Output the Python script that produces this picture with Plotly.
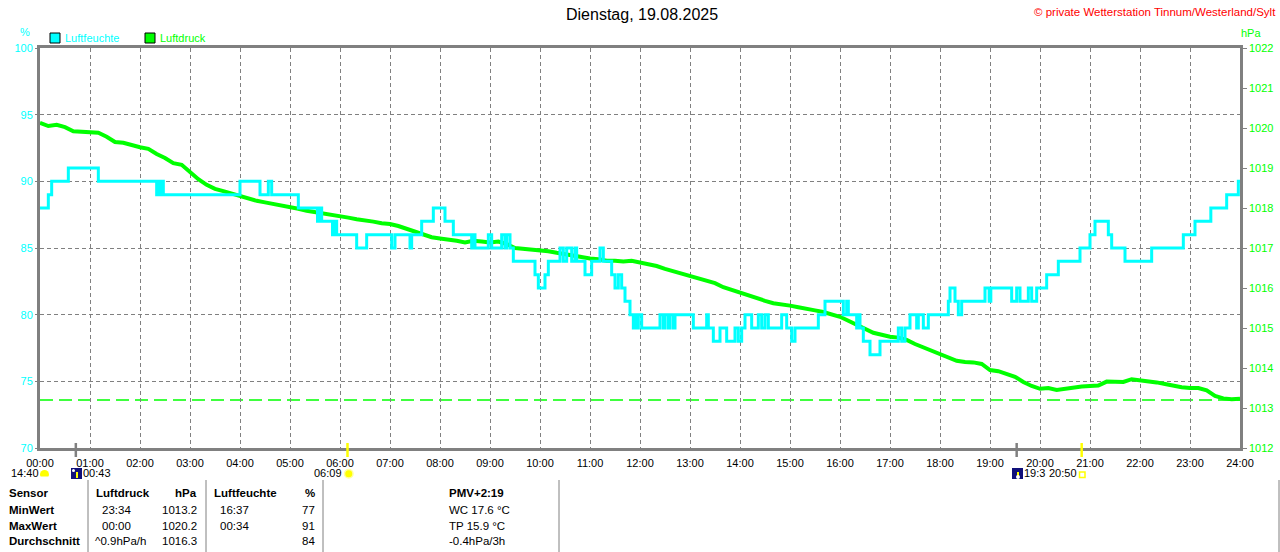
import plotly.graph_objects as go

# Luftfeuchte (%) - Zeitpunkte, an denen sich der Wert ändert
hum_times = [
    "00:00", "00:10", "00:14", "00:34", "01:10", "02:20", "02:22", "02:25", "02:26", "02:28",
    "04:00", "04:24", "04:34", "04:38", "05:10", "05:33", "05:35", "05:38", "05:51", "05:53",
    "05:56", "06:20", "06:32", "07:02", "07:06", "07:24", "07:26", "07:38", "07:52", "08:06",
    "08:16", "08:38", "08:40", "08:42", "08:58", "09:02", "09:14", "09:18", "09:20", "09:24",
    "09:28", "09:54", "09:58", "10:06", "10:10", "10:24", "10:28", "10:32", "10:38", "10:42",
    "10:44", "10:54", "11:02", "11:12", "11:16", "11:26", "11:30", "11:34", "11:38", "11:42",
    "11:48", "11:52", "11:54", "11:56", "11:58", "12:02", "12:24", "12:28", "12:30", "12:34",
    "12:36", "12:40", "12:42", "13:04", "13:20", "13:22", "13:28", "13:36", "13:44", "13:54",
    "13:58", "14:02", "14:06", "14:14", "14:22", "14:26", "14:30", "14:34", "14:50", "14:56",
    "15:02", "15:06", "15:34", "15:42", "16:04", "16:08", "16:10", "16:20", "16:22", "16:24",
    "16:28", "16:36", "16:48", "17:10", "17:14", "17:18", "17:24", "17:32", "17:34", "17:40",
    "17:46", "18:10", "18:12", "18:18", "18:22", "18:26", "18:54", "18:59", "19:01", "19:26",
    "19:32", "19:36", "19:46", "19:50", "19:56", "20:08", "20:22", "20:48", "21:00", "21:06",
    "21:22", "21:26", "21:42", "22:14", "22:52", "23:06", "23:25", "23:44", "23:58", "24:00",
]
hum_values = [
    88, 89, 90, 91, 90, 89, 90, 89, 90, 89,
    90, 89, 90, 89, 88, 87, 88, 87, 86, 87,
    86, 85, 86, 85, 86, 85, 86, 87, 88, 87,
    86, 85, 86, 85, 86, 85, 86, 85, 86, 85,
    84, 83, 82, 83, 84, 85, 84, 85, 84, 85,
    84, 83, 84, 85, 84, 83, 82, 83, 82, 81,
    80, 79, 80, 79, 80, 79, 80, 79, 80, 79,
    80, 79, 80, 79, 80, 79, 78, 79, 78, 79,
    78, 79, 80, 79, 80, 79, 80, 79, 80, 79,
    78, 79, 80, 81, 80, 81, 80, 79, 80, 79,
    78, 77, 78, 79, 78, 79, 80, 79, 80, 79,
    80, 81, 82, 81, 80, 81, 82, 81, 82, 81,
    82, 81, 82, 81, 82, 83, 84, 85, 86, 87,
    86, 85, 84, 85, 86, 87, 88, 89, 90, 90,
]

# Luftdruck (hPa) - ein Wert alle 10 Minuten, 00:00 bis 24:00
press_values = [
    1020.13, 1020.05, 1020.08, 1020.02, 1019.92, 1019.90,  # 00
    1019.90, 1019.88, 1019.78, 1019.65, 1019.63, 1019.57,  # 01
    1019.52, 1019.48, 1019.35, 1019.25, 1019.12, 1019.08,  # 02
    1018.90, 1018.72, 1018.58, 1018.48, 1018.42, 1018.36,  # 03
    1018.28, 1018.24, 1018.18, 1018.14, 1018.10, 1018.08,  # 04
    1018.04, 1017.98, 1017.93, 1017.90, 1017.85, 1017.82,  # 05
    1017.80, 1017.76, 1017.72, 1017.70, 1017.66, 1017.62,  # 06
    1017.60, 1017.55, 1017.48, 1017.40, 1017.32, 1017.27,  # 07
    1017.24, 1017.22, 1017.18, 1017.14, 1017.18, 1017.16,  # 08
    1017.14, 1017.16, 1017.10, 1017.00, 1016.98, 1016.96,  # 09
    1016.95, 1016.92, 1016.88, 1016.84, 1016.80, 1016.76,  # 10
    1016.74, 1016.72, 1016.68, 1016.68, 1016.66, 1016.68,  # 11
    1016.64, 1016.60, 1016.55, 1016.48, 1016.42, 1016.35,  # 12
    1016.28, 1016.22, 1016.18, 1016.12, 1016.02, 1015.95,  # 13
    1015.88, 1015.80, 1015.74, 1015.68, 1015.62, 1015.60,  # 14
    1015.56, 1015.52, 1015.47, 1015.44, 1015.40, 1015.35,  # 15
    1015.28, 1015.18, 1015.08, 1014.97, 1014.88, 1014.83,  # 16
    1014.78, 1014.76, 1014.70, 1014.60, 1014.52, 1014.42,  # 17
    1014.35, 1014.26, 1014.18, 1014.15, 1014.14, 1014.10,  # 18
    1013.95, 1013.92, 1013.85, 1013.78, 1013.65, 1013.55,  # 19
    1013.48, 1013.50, 1013.45, 1013.48, 1013.52, 1013.54,  # 20
    1013.55, 1013.56, 1013.66, 1013.66, 1013.65, 1013.72,  # 21
    1013.70, 1013.68, 1013.64, 1013.60, 1013.55, 1013.52,  # 22
    1013.50, 1013.50, 1013.44, 1013.30, 1013.24, 1013.22,  # 23
    1013.23,                                               # 24
]
press_min = 1013.2

hour_labels = ["%02d:00" % h for h in range(25)]

# Mond- und Sonnenzeiten unter der Zeitachse
moon_rise = "00:43"
moon_set = "19:32"
sun_rise = "06:09"
sun_set = "20:50"

# Tabelle unten
table_rows = ["Sensor", "MinWert", "MaxWert", "Durchschnitt"]
druck_time = ["", "23:34", "00:00", "^0.9hPa/h"]
druck_val = ["hPa", "1013.2", "1020.2", "1016.3"]
feuchte_time = ["", "16:37", "00:34", ""]
feuchte_val = ["%", "77", "91", "84"]
extra_info = ["PMV+2:19", "WC 17.6 °C", "TP 15.9 °C", "-0.4hPa/3h"]

CYAN = "#00FFFF"
GREEN = "#00FF00"
GREY = "#808080"
FONT = "Liberation Sans, Arial, sans-serif"


def hours(t):
    h, m = t.split(":")
    return int(h) + int(m) / 60


def px_x(px):
    return (px - 40) / 1200


def px_y(py):
    return (448 - py) / 400


press_times = [i / 6 for i in range(len(press_values))]

fig = go.Figure()

fig.add_trace(go.Scatter(
    x=press_times, y=press_values, yaxis="y", mode="lines",
    line=dict(color=GREEN, width=4), name="Luftdruck", hoverinfo="skip",
))
fig.add_trace(go.Scatter(
    x=[hours(t) for t in hum_times], y=hum_values, yaxis="y2", mode="lines",
    line=dict(color=CYAN, width=3, shape="hv"), name="Luftfeuchte", hoverinfo="skip",
))

annotations = []
shapes = []


def text(px, py, s, anchor="left", color="black", size=11, bold=False):
    if bold:
        s = "<b>" + s + "</b>"
    annotations.append(dict(
        x=px_x(px), y=px_y(py), xref="paper", yref="paper", text=s,
        showarrow=False, xanchor=anchor, yanchor="middle",
        font=dict(family=FONT, size=size, color=color), borderpad=0,
    ))


# Kopfzeile
text(642, 15, "Dienstag, 19.08.2025", anchor="center", size=16)
text(1277, 12, "© private Wetterstation Tinnum/Westerland/Sylt", anchor="right", color="#FF0000", size=11.5)
text(31, 32, "%", anchor="right", color=CYAN)
text(1240, 33, "hPa", color=GREEN)

# Legende
for x0, label, col in [(50, "Luftfeuchte", CYAN), (145, "Luftdruck", GREEN)]:
    shapes.append(dict(type="rect", xref="paper", yref="paper",
                       x0=px_x(x0), x1=px_x(x0 + 10), y0=px_y(43), y1=px_y(33),
                       fillcolor=col, line=dict(color="black", width=1)))
    text(x0 + 14, 38, label, color=col)

# Minimum-Linie Luftdruck
shapes.append(dict(type="line", xref="x", yref="y", x0=0, x1=24, y0=press_min, y1=press_min,
                   line=dict(color=GREEN, width=1.5, dash="13px,6px"), layer="below"))

# Markierungen für Mond und Sonne
for t, col in [(moon_rise, GREY), (moon_set, GREY), (sun_rise, "#FFFF00"), (sun_set, "#FFFF00")]:
    shapes.append(dict(type="line", xref="x", yref="paper", x0=hours(t), x1=hours(t),
                       y0=px_y(443), y1=px_y(457), line=dict(color=col, width=2.5)))

text(10, 473, "14:40")
shapes.append(dict(type="circle", xref="paper", yref="paper", x0=px_x(40), x1=px_x(49),
                   y0=px_y(479), y1=px_y(470), fillcolor="#FFFF00", line=dict(width=0)))
shapes.append(dict(type="rect", xref="paper", yref="paper", x0=px_x(39), x1=px_x(50),
                   y0=px_y(482), y1=px_y(476.5), fillcolor="white", line=dict(width=0)))

for xs in [71, 1012]:
    shapes.append(dict(type="rect", xref="paper", yref="paper", x0=px_x(xs), x1=px_x(xs + 11),
                       y0=px_y(479), y1=px_y(468), fillcolor="#10107A", line=dict(width=0)))
    shapes.append(dict(type="line", xref="paper", yref="paper", x0=px_x(xs + 6), x1=px_x(xs + 6),
                       y0=px_y(478), y1=px_y(472), line=dict(color="#FFFF00", width=2)))
shapes.append(dict(type="circle", xref="paper", yref="paper", x0=px_x(72), x1=px_x(75),
                   y0=px_y(472), y1=px_y(469), fillcolor="white", line=dict(width=0)))
shapes.append(dict(type="circle", xref="paper", yref="paper", x0=px_x(1016), x1=px_x(1020),
                   y0=px_y(479), y1=px_y(475), fillcolor="white", line=dict(width=0)))
text(82, 473, moon_rise)
text(1023, 473, moon_set[:4])
text(343, 473, sun_rise, anchor="right")
shapes.append(dict(type="circle", xref="paper", yref="paper", x0=px_x(344.5), x1=px_x(353),
                   y0=px_y(478), y1=px_y(469.5), fillcolor="#FFFF00",
                   line=dict(color="#FFFFA0", width=1.5)))
text(1048, 473, sun_set)
shapes.append(dict(type="rect", xref="paper", yref="paper", x0=px_x(1079.5), x1=px_x(1085),
                   y0=px_y(477.5), y1=px_y(472), line=dict(color="#FFFF00", width=1.5)))

# Tabelle
for xs in [88, 206, 323, 559, 1279]:
    shapes.append(dict(type="line", xref="paper", yref="paper", x0=px_x(xs), x1=px_x(xs),
                       y0=px_y(480), y1=px_y(552), line=dict(color=GREY, width=1)))

row_y = [493, 509.5, 525.5, 541]
for i, y in enumerate(row_y):
    head = i == 0
    text(8, y, table_rows[i], bold=True, size=11.5)
    if head:
        text(95, y, "Luftdruck", bold=True, size=11.5)
        text(213, y, "Luftfeuchte", bold=True, size=11.5)
    else:
        text(94 if druck_time[i].startswith("^") else 101, y, druck_time[i], size=11.5)
        text(219, y, feuchte_time[i], size=11.5)
    text(198, y, druck_val[i], anchor="right", bold=head, size=11.5)
    text(316, y, feuchte_val[i], anchor="right", bold=head, size=11.5)
    text(448, y, extra_info[i], bold=head, size=11.5)

fig.update_layout(
    width=1280, height=552,
    margin=dict(l=40, r=40, t=48, b=104, autoexpand=False),
    paper_bgcolor="white", plot_bgcolor="white",
    showlegend=False,
    font=dict(family=FONT, size=11, color="black"),
    xaxis=dict(
        range=[0, 24], tickvals=list(range(25)), ticktext=hour_labels,
        showgrid=True, gridcolor=GREY, griddash="4px,3px", gridwidth=1,
        showline=True, linecolor=GREY, linewidth=2.5, mirror=True,
        ticks="", zeroline=False, tickfont=dict(color="black", size=11),
        ticklabelstandoff=3, automargin=False,
    ),
    yaxis=dict(
        range=[1012, 1022], dtick=1, side="right", showgrid=False, zeroline=False,
        showline=True, linecolor=GREY, linewidth=2.5, mirror=True, automargin=False,
        ticks="outside", ticklen=4, tickcolor=GREY, tickfont=dict(color=GREEN, size=11),
    ),
    yaxis2=dict(
        range=[70, 100], dtick=5, overlaying="y", side="left", automargin=False,
        showgrid=True, gridcolor=GREY, griddash="4px,3px", gridwidth=1, zeroline=False,
        ticks="outside", ticklen=4, tickcolor=GREY, tickfont=dict(color=CYAN, size=11),
    ),
    annotations=annotations,
    shapes=shapes,
)

fig.write_html(
    "out.html",
    config={"displayModeBar": False, "responsive": False},
    post_script="document.body.style.margin='0';document.body.style.overflow='hidden';",
)
